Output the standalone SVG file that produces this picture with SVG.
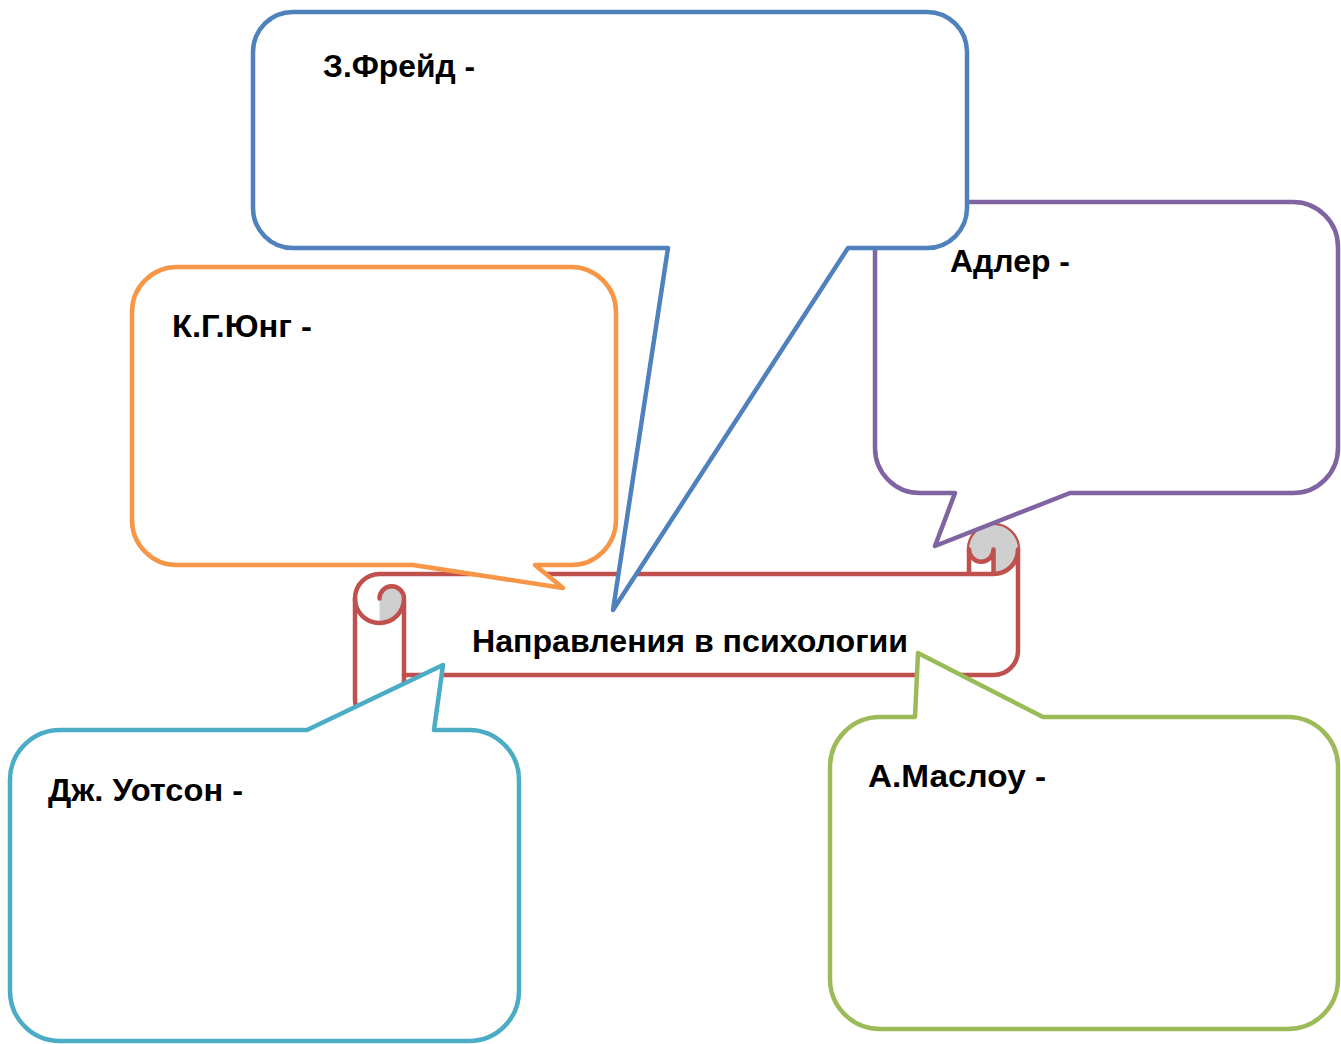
<svg xmlns="http://www.w3.org/2000/svg" width="1341" height="1044" viewBox="0 0 1341 1044">
<style>
.call{fill:#FFFFFF;stroke-width:4.5;stroke-linejoin:round}
.scroll{fill:#FFFFFF;stroke:#C0504D;stroke-width:4.5;stroke-linejoin:round}
.curl{fill:#CFCFCF;stroke:none}
.line{fill:none;stroke:#C0504D;stroke-width:4.5;stroke-linejoin:round;stroke-linecap:round}
.lbl{font-family:"Liberation Sans",Arial,sans-serif;font-weight:bold;font-size:32px;fill:#000000}
</style>
<rect width="1341" height="1044" fill="#FFFFFF"/>
<g id="scroll">
<path class="scroll" d="M355,598.5 A24.5,24.5 0 0 1 379.5,574 L969,574 L969,549.5 A24.5,24.5 0 0 1 1018,549.5 L1018,650.5 A24.5,24.5 0 0 1 993.5,675 L404,675 L404,699.5 A24.5,24.5 0 0 1 355,699.5 Z"/>
<path class="curl" d="M379.5,598.5 A12.25,12.25 0 0 1 404,598.5 A24.5,24.5 0 0 1 379.5,623 Z"/>
<path class="curl" d="M993.5,574 A24.5,24.5 0 1 0 969,549.5 A12.25,12.25 0 0 0 993.5,549.5 Z"/>
<path class="line" d="M355,598.5 A24.5,24.5 0 0 0 379.5,623 A24.5,24.5 0 0 0 404,598.5 A12.25,12.25 0 0 0 379.5,598.5 M404,598.5 L404,675 M969,549.5 A12.25,12.25 0 0 0 993.5,549.5 L993.5,574 M969,574 L993.5,574 M1018,549.5 A24.5,24.5 0 0 1 993.5,574"/>
<text class="lbl" x="472" y="652" textLength="436" lengthAdjust="spacingAndGlyphs">Направления в психологии</text>
</g>
<g id="connectors"></g>
<g id="jung">
<path class="call" stroke="#F79646" d="M177,267 H571 A45,45 0 0 1 616,312 V520 A45,45 0 0 1 571,565 H535 L563,588 L413,565 H177 A45,45 0 0 1 132,520 V312 A45,45 0 0 1 177,267 Z"/>
<text class="lbl" x="172" y="337" textLength="140" lengthAdjust="spacingAndGlyphs">К.Г.Юнг -</text>
</g>
<g id="watson">
<path class="call" stroke="#4BACC6" d="M60,730 H307 L443,665 L434,730 H469 A50,50 0 0 1 519,780 V991 A50,50 0 0 1 469,1041 H60 A50,50 0 0 1 10,991 V780 A50,50 0 0 1 60,730 Z"/>
<text class="lbl" x="48" y="801" textLength="195" lengthAdjust="spacingAndGlyphs">Дж. Уотсон -</text>
</g>
<g id="maslow">
<path class="call" stroke="#9BBB59" d="M880,717 H915 L918,653 L1043,717 H1288 A50,50 0 0 1 1338,767 V979 A50,50 0 0 1 1288,1029 H880 A50,50 0 0 1 830,979 V767 A50,50 0 0 1 880,717 Z"/>
<text class="lbl" x="868" y="787" textLength="178" lengthAdjust="spacingAndGlyphs">А.Маслоу -</text>
</g>
<g id="adler">
<path class="call" stroke="#8064A2" d="M920,202 H1293 A45,45 0 0 1 1338,247 V448 A45,45 0 0 1 1293,493 H1070 L935,546 L955,493 H920 A45,45 0 0 1 875,448 V247 A45,45 0 0 1 920,202 Z"/>
<text class="lbl" x="950" y="272" textLength="120" lengthAdjust="spacingAndGlyphs">Адлер -</text>
</g>
<g id="freud">
<path class="call" stroke="#4F81BD" d="M293,12 H927 A40,40 0 0 1 967,52 V208 A40,40 0 0 1 927,248 H848 L613,610 L668,248 H293 A40,40 0 0 1 253,208 V52 A40,40 0 0 1 293,12 Z"/>
<text class="lbl" x="323" y="77" textLength="152" lengthAdjust="spacingAndGlyphs">З.Фрейд -</text>
</g>
</svg>
